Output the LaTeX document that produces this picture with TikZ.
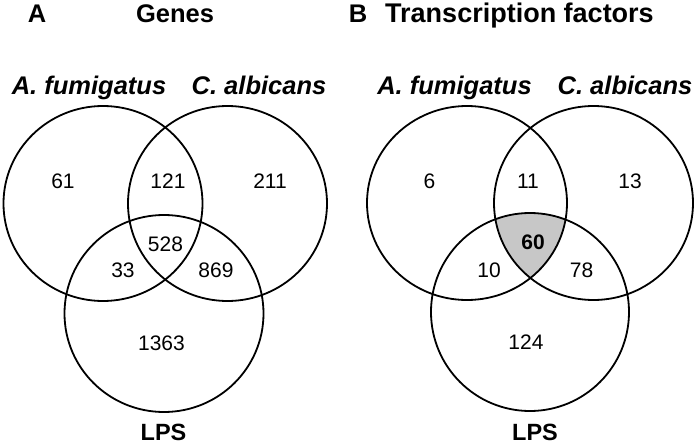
\documentclass[tikz,border=0pt]{standalone}
\usepackage{fontspec}
\setmainfont{Liberation Sans}
\begin{document}
\begin{tikzpicture}[x=1pt, y=-1pt, line width=1.8pt,
    every node/.style={inner sep=0pt, outer sep=0pt, anchor=base},
    count/.style={font=\fontsize{21}{25}\selectfont},
    setname/.style={font=\fontsize{25.5}{30}\selectfont\bfseries\itshape},
    heading/.style={font=\fontsize{25.5}{30}\selectfont\bfseries},
    lpsname/.style={font=\fontsize{23.5}{28}\selectfont\bfseries}]
            \useasboundingbox (0,0) rectangle (697,447);
            % panel A
            \node[heading] (labA) at (37, 23) {A};
            \node[heading] (titleA) at (175, 23) {Genes};
            \node[setname] (afA) at (89, 94) {A. fumigatus};
            \node[setname] (caA) at (259, 94) {C. albicans};
            \draw (103, 203.5) circle [x radius=99.5, y radius=97.5];
            \draw (227.5, 203.5) circle [x radius=99.5, y radius=97.5];
            \draw (164, 313.5) circle [x radius=99.5, y radius=98.5];
            \node[count] (a61) at (63, 188) {61};
            \node[count] (a121) at (168, 188) {121};
            \node[count] (a211) at (270, 188) {211};
            \node[count] (a528) at (165.5, 251.5) {528};
            \node[count] (a33) at (123, 277) {33};
            \node[count] (a869) at (216, 277) {869};
            \node[count] (a1363) at (161.5, 350) {1363};
            \node[lpsname] (lpsA) at (163.5, 440) {LPS};
            % panel B
            \begin{scope}
                \clip (467, 203) circle [x radius=100, y radius=97];
                \clip (593.5, 203) circle [x radius=99.5, y radius=97];
                \fill[black!22] (530, 312) circle [x radius=99, y radius=99];
            \end{scope}
            \node[heading] (labB) at (358, 23) {B};
            \node[heading, font=\fontsize{27}{32}\selectfont\bfseries] (titleB) at (519.5, 23) {Transcription factors};
            \node[setname] (afB) at (454.5, 94) {A. fumigatus};
            \node[setname] (caB) at (625, 94) {C. albicans};
            \draw (467, 203) circle [x radius=100, y radius=97];
            \draw (593.5, 203) circle [x radius=99.5, y radius=97];
            \draw (530, 312) circle [x radius=99, y radius=99];
            \node[count] (b6) at (429.5, 188) {6};
            \node[count] (b11) at (528, 188) {11};
            \node[count] (b13) at (630, 188) {13};
            \node[count, font=\fontsize{21}{25}\selectfont\bfseries] (b60) at (533, 249) {60};
            \node[count] (b10) at (489, 277) {10};
            \node[count] (b78) at (581.5, 277) {78};
            \node[count] (b124) at (526, 349.5) {124};
            \node[lpsname] (lpsB) at (535, 440) {LPS};
        \end{tikzpicture}
\end{document}
